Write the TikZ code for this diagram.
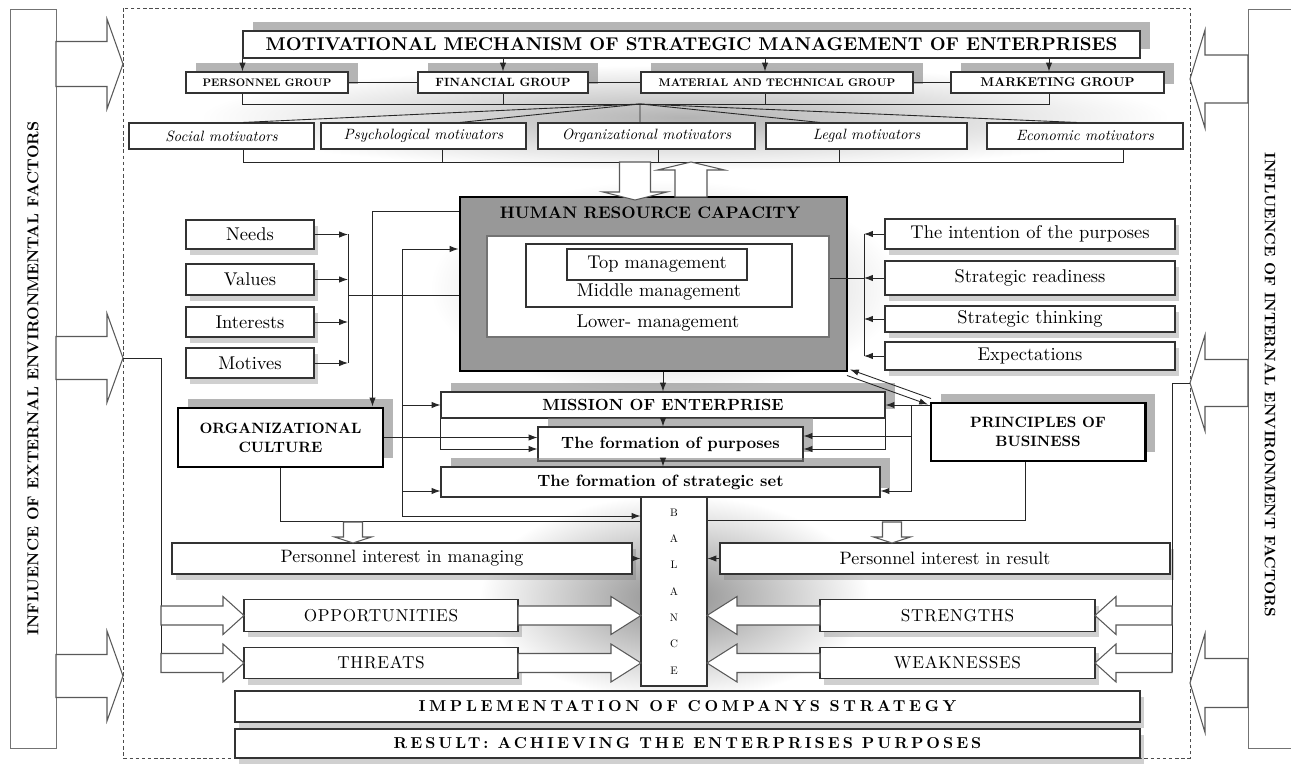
\documentclass[tikz,border=0pt]{standalone}
\usepackage{fontspec}
\setmainfont{lmroman10}[Extension=.otf,UprightFont=*-regular,BoldFont=*-bold,ItalicFont=*-italic,BoldItalicFont=*-bolditalic]
\usetikzlibrary{arrows.meta,shadows}
\definecolor{hrgray}{RGB}{152,152,152}
\definecolor{shgray}{RGB}{120,120,120}
% block arrow: tip x, tip y, direction, length, shaft width, head width, head length
\newcommand{\blockarrow}[7]{%
  \draw[barrow,shift={(#1,#2)},rotate=#3] (0,0) -- (-#7,#6/2) -- (-#7,#5/2) -- (-#4,#5/2)
    -- (-#4,-#5/2) -- (-#7,-#5/2) -- (-#7,-#6/2) -- cycle;}

\begin{document}
\begin{tikzpicture}[
  box/.style={draw=black!80,fill=white,line width=0.6pt,inner sep=1pt,align=center},
  hbox/.style={box,draw=black,line width=1.7pt},
  upshadow/.style={drop shadow={shadow xshift=0.2cm,shadow yshift=0.18cm,fill=shgray,opacity=0.55}},
  lowshadow/.style={drop shadow={shadow xshift=0.08cm,shadow yshift=-0.12cm,fill=shgray,opacity=0.35}},
  bar/.style={draw=black!55,fill=white,line width=0.5pt},
  barrow/.style={draw=black!65,fill=white,line width=0.6pt},
  link/.style={draw=black!85,line width=0.5pt},
  arr/.style={link,-{Latex[length=5pt,width=3.6pt]}},
  dashframe/.style={draw=black!70,line width=0.5pt,dash pattern=on 2pt off 1.5pt},
  grp/.style={box,upshadow,minimum height=0.42cm,font=\fontsize{6.8}{8}\selectfont\bfseries},
  motv/.style={box,minimum height=0.52cm,font=\fontsize{8.5}{10}\selectfont\itshape},
  inbox/.style={box,lowshadow,minimum width=2.56cm,font=\fontsize{10.5}{12}\selectfont},
  rbox/.style={box,lowshadow,minimum width=5.8cm,font=\fontsize{10.5}{12}\selectfont},
  midbox/.style={box,upshadow,font=\fontsize{9.3}{11}\selectfont\bfseries},
  swot/.style={box,lowshadow,minimum height=0.63cm,font=\fontsize{9.8}{11}\selectfont\addfontfeatures{LetterSpace=4}},
  wide/.style={box,lowshadow,minimum width=18.1cm,font=\fontsize{8}{10}\selectfont\bfseries}
]
\useasboundingbox (0,0) rectangle (25.82,-15.28);

% soft background
\shade[inner color=black!45,outer color=white] (9.6,-9.9) rectangle (17.4,-14.0);
\shade[inner color=black!30,outer color=white] (4.0,-1.3) rectangle (23.4,-3.4);
\shade[inner color=black!30,outer color=white] (8.6,-3.6) rectangle (18.0,-7.9);

% side bars
\node[bar,minimum width=0.92cm,minimum height=14.78cm] (extbar) at (0.66,-7.57) {};
\node[rotate=90,font=\fontsize{9}{11}\selectfont\bfseries] (exttxt) at (extbar.center) {INFLUENCE OF EXTERNAL ENVIRONMENTAL FACTORS};
\node[bar,minimum width=0.94cm,minimum height=14.78cm] (intbar) at (25.43,-7.57) {};
\node[rotate=-90,font=\fontsize{8.6}{10}\selectfont\bfseries] (inttxt) at (25.4,-7.7) {INFLUENCE OF INTERNAL ENVIRONMENT FACTORS};

\draw[dashframe] (2.46,-0.16) rectangle (23.8,-15.16);

% influence arrows
\blockarrow{2.46}{-1.28}{0}{1.34}{0.9}{1.8}{0.32}
\blockarrow{2.46}{-7.16}{0}{1.34}{0.86}{1.78}{0.32}
\blockarrow{2.46}{-13.52}{0}{1.34}{0.86}{1.8}{0.32}
\blockarrow{23.8}{-1.58}{180}{1.16}{0.96}{1.96}{0.3}
\blockarrow{23.8}{-7.66}{180}{1.16}{0.94}{1.92}{0.3}
\blockarrow{23.8}{-13.66}{180}{1.16}{0.98}{1.98}{0.3}

% motivational mechanism
\node[box,upshadow,minimum width=17.94cm,minimum height=0.54cm,font=\fontsize{10.5}{12}\selectfont\bfseries] (title) at (13.83,-0.89) {MOTIVATIONAL MECHANISM OF STRATEGIC MANAGEMENT OF ENTERPRISES};
\node[grp,minimum width=3.24cm,font=\fontsize{6.2}{8}\selectfont\bfseries] (pers) at (5.34,-1.65) {PERSONNEL GROUP};
\node[grp,minimum width=3.40cm] (fin) at (10.06,-1.65) {FINANCIAL GROUP};
\node[grp,minimum width=5.44cm,font=\fontsize{6.3}{8}\selectfont\bfseries] (mat) at (15.54,-1.65) {MATERIAL AND TECHNICAL GROUP};
\node[grp,minimum width=4.26cm,font=\fontsize{7.2}{8}\selectfont\bfseries] (mark) at (21.15,-1.65) {MARKETING GROUP};

\node[motv,minimum width=3.70cm] (soc) at (4.43,-2.72) {Social motivators};
\node[motv,minimum width=4.10cm] (psy) at (8.47,-2.72) {Psychological motivators};
\node[motv,minimum width=4.34cm] (orgm) at (12.93,-2.72) {Organizational motivators};
\node[motv,minimum width=4.02cm] (leg) at (17.33,-2.72) {Legal motivators};
\node[motv,minimum width=3.92cm] (eco) at (21.70,-2.72) {Economic motivators};

\coordinate (gjoin) at (12.8,-2.08);
\coordinate (matx) at ([xshift=-0.24cm]mat.north);
\coordinate (markx) at ([xshift=-0.17cm]mark.north);
\draw[arr] (title.south west) -- (title.south west |- pers.north);
\draw[arr] (title.south -| fin.north) -- (fin.north);
\draw[arr] (matx |- title.south) -- (matx);
\draw[arr] (markx |- title.south) -- (markx);
\draw[link] (pers) -- (fin);
\draw[link] (fin) -- (mat);
\draw[link] (mat) -- (mark);
\draw[link] (title.south west |- pers.south) |- (markx |- gjoin) -- (markx |- mark.south);
\draw[link] (fin.south) -- (fin.south |- gjoin);
\draw[link] (matx |- mat.south) -- (matx |- gjoin);
\draw[link] (gjoin) -- ([xshift=0.43cm]soc.north);
\draw[link] (gjoin) -- ([xshift=0.73cm]psy.north);
\draw[link] (gjoin) -- ([xshift=-0.13cm]orgm.north);
\draw[link] (gjoin) -- ([xshift=-0.93cm]leg.north);
\draw[link] (gjoin) -- ([xshift=-0.16cm]eco.north);
\draw[link] ([xshift=0.43cm]soc.south) -- ++(0,-0.26) -- ([xshift=0.76cm,yshift=-0.26cm]eco.south) -- ([xshift=0.76cm]eco.south);
\draw[link] ([xshift=0.37cm]psy.south) -- ++(0,-0.26);
\draw[link] ([xshift=0.23cm]orgm.south) -- ++(0,-0.26);
\draw[link] ([xshift=-0.55cm]leg.south) -- ++(0,-0.26);

% human resource capacity
\node[hbox,fill=hrgray,minimum width=7.74cm,minimum height=3.48cm] (hr) at (13.07,-5.68) {};
\node[font=\fontsize{9.5}{11}\selectfont\bfseries] (hrtitle) at (13.0,-4.26) {HUMAN RESOURCE CAPACITY};
\node[box,draw=black!55,minimum width=6.84cm,minimum height=2.02cm] (inner) at (13.16,-5.73) {};
\node[box,minimum width=5.32cm,minimum height=1.26cm] (midbox) at (13.18,-5.51) {};
\node[box,minimum width=3.6cm,minimum height=0.62cm,font=\fontsize{10.5}{12}\selectfont] (topm) at (13.14,-5.29) {Top management};
\node[font=\fontsize{10.5}{12}\selectfont] (midm) at (13.18,-5.84) {Middle management};
\node[font=\fontsize{10.5}{12}\selectfont] (lowm) at (13.16,-6.46) {Lower- management};
\blockarrow{12.7}{-4.0}{-90}{0.76}{0.62}{1.28}{0.16}
\blockarrow{13.82}{-3.24}{90}{0.7}{0.64}{1.34}{0.16}

% personal factors
\node[inbox,minimum height=0.58cm] (needs) at (5.0,-4.69) {Needs};
\node[inbox,minimum height=0.62cm] (values) at (5.0,-5.59) {Values};
\node[inbox,minimum height=0.60cm] (interests) at (5.0,-6.44) {Interests};
\node[inbox,minimum height=0.60cm] (motives) at (5.0,-7.26) {Motives};
\coordinate (lv) at (6.96,-5.9);
\draw[arr] (needs.east) -- (needs.east -| lv);
\draw[arr] (values.east) -- (values.east -| lv);
\draw[arr] (interests.east) -- (interests.east -| lv);
\draw[arr] (motives.east) -- (motives.east -| lv);
\draw[link] (needs.east -| lv) -- (motives.east -| lv);
\draw[link] (lv) -- (lv -| hr.west);

% strategic factors
\node[rbox,minimum height=0.60cm] (intent) at (20.6,-4.68) {The intention of the purposes};
\node[rbox,minimum height=0.68cm] (ready) at (20.6,-5.56) {Strategic readiness};
\node[rbox,minimum height=0.52cm] (think) at (20.6,-6.38) {Strategic thinking};
\node[rbox,minimum height=0.56cm] (expect) at (20.6,-7.12) {Expectations};
\coordinate (rv) at (17.28,-5.56);
\draw[arr] (intent.west) -- (intent.west -| rv);
\draw[arr] (ready.west) -- (ready.west -| rv);
\draw[arr] (think.west) -- (think.west -| rv);
\draw[arr] (expect.west) -- (expect.west -| rv);
\draw[link] (intent.west -| rv) -- (expect.west -| rv);
\draw[link] (rv) -- (rv -| inner.east);

% culture, mission, principles
\node[hbox,upshadow,minimum width=4.1cm,minimum height=1.18cm,font=\fontsize{8.5}{10.8}\selectfont\bfseries] (orgc) at (5.61,-8.75) {ORGANIZATIONAL\\CULTURE};
\node[midbox,minimum width=8.88cm,minimum height=0.52cm,font=\fontsize{9.2}{11}\selectfont\bfseries] (mission) at (13.26,-8.1) {MISSION OF ENTERPRISE};
\node[midbox,minimum width=5.3cm,minimum height=0.68cm] (purp) at (13.41,-8.88) {The formation of purposes};
\node[midbox,minimum width=8.78cm,minimum height=0.6cm] (strat) at (13.21,-9.64) {The formation of strategic set};
\node[hbox,upshadow,minimum width=4.28cm,minimum height=1.16cm,font=\fontsize{8.5}{10.8}\selectfont\bfseries] (princ) at (20.76,-8.64) {PRINCIPLES OF\\BUSINESS};
\node[box,minimum width=1.32cm,minimum height=3.78cm,font=\fontsize{6.2}{15}\selectfont] (bal) at (13.48,-11.83) {B\\A\\L\\A\\N\\C\\E};

\draw[arr] (hr.south -| mission.north) -- (mission.north);
\draw[arr] (mission.south) -- (mission.south |- purp.north);
\draw[arr] (purp.south -| mission.south) -- (strat.north -| mission.south);
\draw[arr] ([yshift=-0.32cm]hr.north west) -| ([xshift=-0.24cm]orgc.north east);
\coordinate (ltop) at (8.04,-4.98);
\coordinate (lbot) at (8.04,-10.32);
\coordinate (lst) at (8.04,-9.82);
\draw[arr] (lbot) -- (ltop) -- (ltop -| hr.west);
\draw[arr] (lbot) -- (lbot -| bal.west);
\draw[arr] (ltop |- mission.west) -- (mission.west);
\draw[arr] (lst) -- (lst -| strat.west);
\draw[arr] (orgc.east) -- (orgc.east -| purp.west);
\draw[arr] (mission.south west) |- ([yshift=-0.1cm]purp.west);
\draw[link] (orgc.south) |- ([yshift=-0.5cm]bal.north west);
\coordinate (rtop) at (18.22,-8.1);
\coordinate (rp) at (18.22,-8.72);
\draw[arr] (princ.north west |- mission.east) -- (mission.east);
\draw[arr] (rtop) |- ([yshift=-0.18cm]strat.east);
\draw[arr] (rp) -- (rp -| purp.east);
\draw[arr] (mission.south east) |- ([yshift=-0.1cm]purp.east);
\draw[link] ([xshift=-0.26cm]princ.south) |- ([yshift=-0.48cm]bal.north east);
\draw[arr] ([shift={(0.03,0.06)}]princ.north west) -- ([shift={(0.03,0.06)}]hr.south east);
\draw[arr] ([shift={(-0.03,-0.06)}]hr.south east) -- ([shift={(-0.03,-0.06)}]princ.north west);

% interest and balance
\node[box,lowshadow,minimum width=9.2cm,minimum height=0.62cm,font=\fontsize{10.2}{12}\selectfont] (pim) at (8.04,-11.17) {Personnel interest in managing};
\node[box,lowshadow,minimum width=9.0cm,minimum height=0.62cm,font=\fontsize{10.2}{12}\selectfont] (pir) at (18.9,-11.17) {Personnel interest in result};
\draw[arr] (pim.east) -- (pim.east -| bal.west);
\draw[arr] (pir.west) -- (pir.west -| bal.east);
\blockarrow{7.06}{-10.86}{-90}{0.42}{0.38}{0.74}{0.12}
\blockarrow{17.84}{-10.86}{-90}{0.42}{0.38}{0.74}{0.12}

% swot
\node[swot,minimum width=5.48cm] (opp) at (7.62,-12.31) {OPPORTUNITIES};
\node[swot,minimum width=5.48cm] (thr) at (7.62,-13.26) {THREATS};
\node[swot,minimum width=5.5cm] (str) at (19.15,-12.31) {STRENGTHS};
\node[swot,minimum width=5.5cm] (weak) at (19.15,-13.26) {WEAKNESSES};
\coordinate (ltip) at (2.46,-7.16);
\coordinate (rtip) at (23.8,-7.66);
\draw[link] (ltip) -- (3.22,-7.16) -- (3.22,-13.45);
\draw[link] (rtip) -- (23.44,-7.66) -- (23.44,-13.45);
\blockarrow{4.88}{-12.31}{0}{1.66}{0.38}{0.76}{0.42}
\blockarrow{4.88}{-13.26}{0}{1.66}{0.38}{0.76}{0.42}
\blockarrow{12.82}{-12.31}{0}{2.46}{0.38}{0.76}{0.6}
\blockarrow{12.82}{-13.26}{0}{2.46}{0.38}{0.76}{0.6}
\blockarrow{21.9}{-12.31}{180}{1.54}{0.38}{0.76}{0.42}
\blockarrow{21.9}{-13.26}{180}{1.54}{0.38}{0.76}{0.42}
\blockarrow{14.14}{-12.31}{180}{2.26}{0.38}{0.76}{0.6}
\blockarrow{14.14}{-13.26}{180}{2.26}{0.38}{0.76}{0.6}

% implementation
\node[wide,minimum height=0.62cm,font=\fontsize{9}{10}\selectfont\bfseries\addfontfeatures{LetterSpace=23}] (impl) at (13.75,-14.13) {IMPLEMENTATION OF COMPANYS STRATEGY};
\node[wide,minimum height=0.58cm,font=\fontsize{9}{10}\selectfont\bfseries\addfontfeatures{LetterSpace=19}] (res) at (13.75,-14.87) {RESULT: ACHIEVING THE ENTERPRISES PURPOSES};
\end{tikzpicture}
\end{document}
